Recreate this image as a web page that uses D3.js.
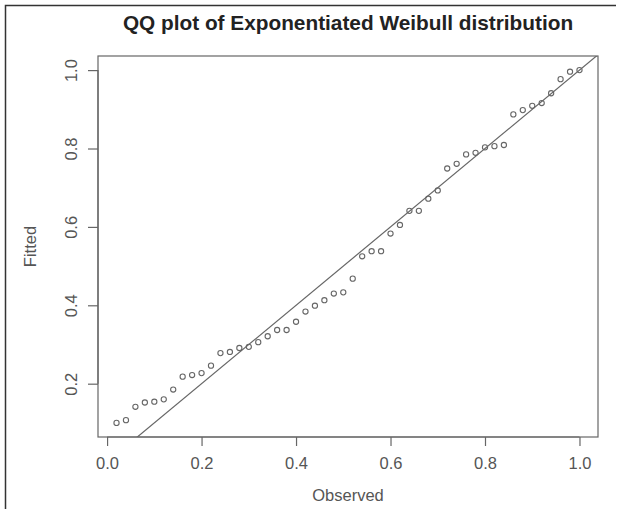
<!DOCTYPE html>
<html>
<head>
<meta charset="utf-8">
<script src="https://cdn.jsdelivr.net/npm/d3@7"></script>
<style>
  html, body { margin: 0; padding: 0; background: #fff; }
  svg { display: block; }
  text { font-family: "Liberation Sans", Arial, Helvetica, sans-serif; }
</style>
</head>
<body>
<svg id="chart" width="619" height="509"></svg>
<script>
// Data
const observed = [
  0.02, 0.04, 0.06, 0.08, 0.10, 0.12, 0.14, 0.16, 0.18, 0.20,
  0.22, 0.24, 0.26, 0.28, 0.30, 0.32, 0.34, 0.36, 0.38, 0.40,
  0.42, 0.44, 0.46, 0.48, 0.50, 0.52, 0.54, 0.56, 0.58, 0.60,
  0.62, 0.64, 0.66, 0.68, 0.70, 0.72, 0.74, 0.76, 0.78, 0.80,
  0.82, 0.84, 0.86, 0.88, 0.90, 0.92, 0.94, 0.96, 0.98, 1.00
];
const fitted = [
  0.100, 0.107, 0.141, 0.152, 0.154, 0.160, 0.185, 0.218, 0.222, 0.227,
  0.246, 0.278, 0.281, 0.291, 0.294, 0.306, 0.321, 0.337, 0.337, 0.358,
  0.384, 0.399, 0.413, 0.430, 0.433, 0.468, 0.525, 0.538, 0.538, 0.583,
  0.605, 0.641, 0.641, 0.672, 0.693, 0.749, 0.761, 0.785, 0.789, 0.803,
  0.806, 0.809, 0.887, 0.898, 0.909, 0.916, 0.941, 0.977, 0.996, 1.000
];
const xTicks = [0.0, 0.2, 0.4, 0.6, 0.8, 1.0];
const yTicks = [0.2, 0.4, 0.6, 0.8, 1.0];
const titleText = "QQ plot of Exponentiated Weibull distribution";
const xLabel = "Observed";
const yLabel = "Fitted";

const svg = d3.select("#chart");
const box = { left: 98, right: 598, top: 56, bottom: 437 };

function rExtent(vals) {
  const lo = d3.min(vals), hi = d3.max(vals), e = (hi - lo) * 0.04;
  return [lo - e, hi + e];
}
const x = d3.scaleLinear().domain(rExtent(observed)).range([box.left, box.right]);
const y = d3.scaleLinear().domain(rExtent(fitted)).range([box.bottom, box.top]);

// outer frame (left and top edges)
svg.append("path")
  .attr("d", "M5.5,509 L5.5,5.5 L616,5.5")
  .attr("fill", "none").attr("stroke", "#333").attr("stroke-width", 1.5);

const gray = "#666";

// plot box
svg.append("rect")
  .attr("x", box.left).attr("y", box.top)
  .attr("width", box.right - box.left).attr("height", box.bottom - box.top)
  .attr("fill", "none").attr("stroke", gray).attr("stroke-width", 1.2);

// x axis
const xAxis = d3.axisBottom(x).tickValues(xTicks).tickSize(9).tickSizeOuter(0)
  .tickPadding(11).tickFormat(d3.format(".1f"));
const gx = svg.append("g").attr("transform", `translate(0,${box.bottom})`).call(xAxis);
gx.select(".domain").attr("d", `M${x(xTicks[0])},0H${x(xTicks[xTicks.length-1])}`)
  .attr("stroke", gray).attr("stroke-width", 1.2);
gx.selectAll(".tick line").attr("stroke", gray).attr("stroke-width", 1.2);
gx.selectAll(".tick text").attr("fill", "#555").attr("font-size", 16.5)
  .attr("font-family", '"Liberation Sans", Arial, sans-serif');

// y axis
const yAxis = d3.axisLeft(y).tickValues(yTicks).tickSize(10).tickSizeOuter(0)
  .tickFormat(d3.format(".1f"));
const gy = svg.append("g").attr("transform", `translate(${box.left},0)`).call(yAxis);
gy.select(".domain").attr("d", `M0,${y(yTicks[0])}V${y(yTicks[yTicks.length-1])}`)
  .attr("stroke", gray).attr("stroke-width", 1.2);
gy.selectAll(".tick line").attr("stroke", gray).attr("stroke-width", 1.2);
gy.selectAll(".tick text")
  .attr("fill", "#555").attr("font-size", 16.5)
  .attr("font-family", '"Liberation Sans", Arial, sans-serif')
  .attr("x", null).attr("dy", null)
  .attr("text-anchor", "middle")
  .attr("transform", "translate(-21,0) rotate(-90)");

// reference line y = x, clipped to box
svg.append("clipPath").attr("id", "clip").append("rect")
  .attr("x", box.left).attr("y", box.top)
  .attr("width", box.right - box.left).attr("height", box.bottom - box.top);
const lo = Math.min(x.domain()[0], y.domain()[0]) - 0.1;
const hi = Math.max(x.domain()[1], y.domain()[1]) + 0.1;
svg.append("line")
  .attr("clip-path", "url(#clip)")
  .attr("x1", x(lo)).attr("y1", y(lo)).attr("x2", x(hi)).attr("y2", y(hi))
  .attr("stroke", gray).attr("stroke-width", 1.2);

// points
svg.append("g").selectAll("circle")
  .data(observed.map((o, i) => [o, fitted[i]]))
  .join("circle")
  .attr("cx", d => x(d[0])).attr("cy", d => y(d[1]))
  .attr("r", 2.6).attr("fill", "none").attr("stroke", gray).attr("stroke-width", 1.1);

// title
svg.append("text")
  .attr("x", (box.left + box.right) / 2).attr("y", 30)
  .attr("text-anchor", "middle").attr("font-weight", "bold")
  .attr("font-size", 20.8).attr("fill", "#222").text(titleText);

// axis titles
svg.append("text")
  .attr("x", (box.left + box.right) / 2).attr("y", 501)
  .attr("text-anchor", "middle").attr("font-size", 16.5).attr("fill", "#555").text(xLabel);
svg.append("text")
  .attr("transform", `translate(36,${(box.top + box.bottom) / 2}) rotate(-90)`)
  .attr("text-anchor", "middle").attr("font-size", 16.5).attr("fill", "#555").text(yLabel);
</script>
</body>
</html>
